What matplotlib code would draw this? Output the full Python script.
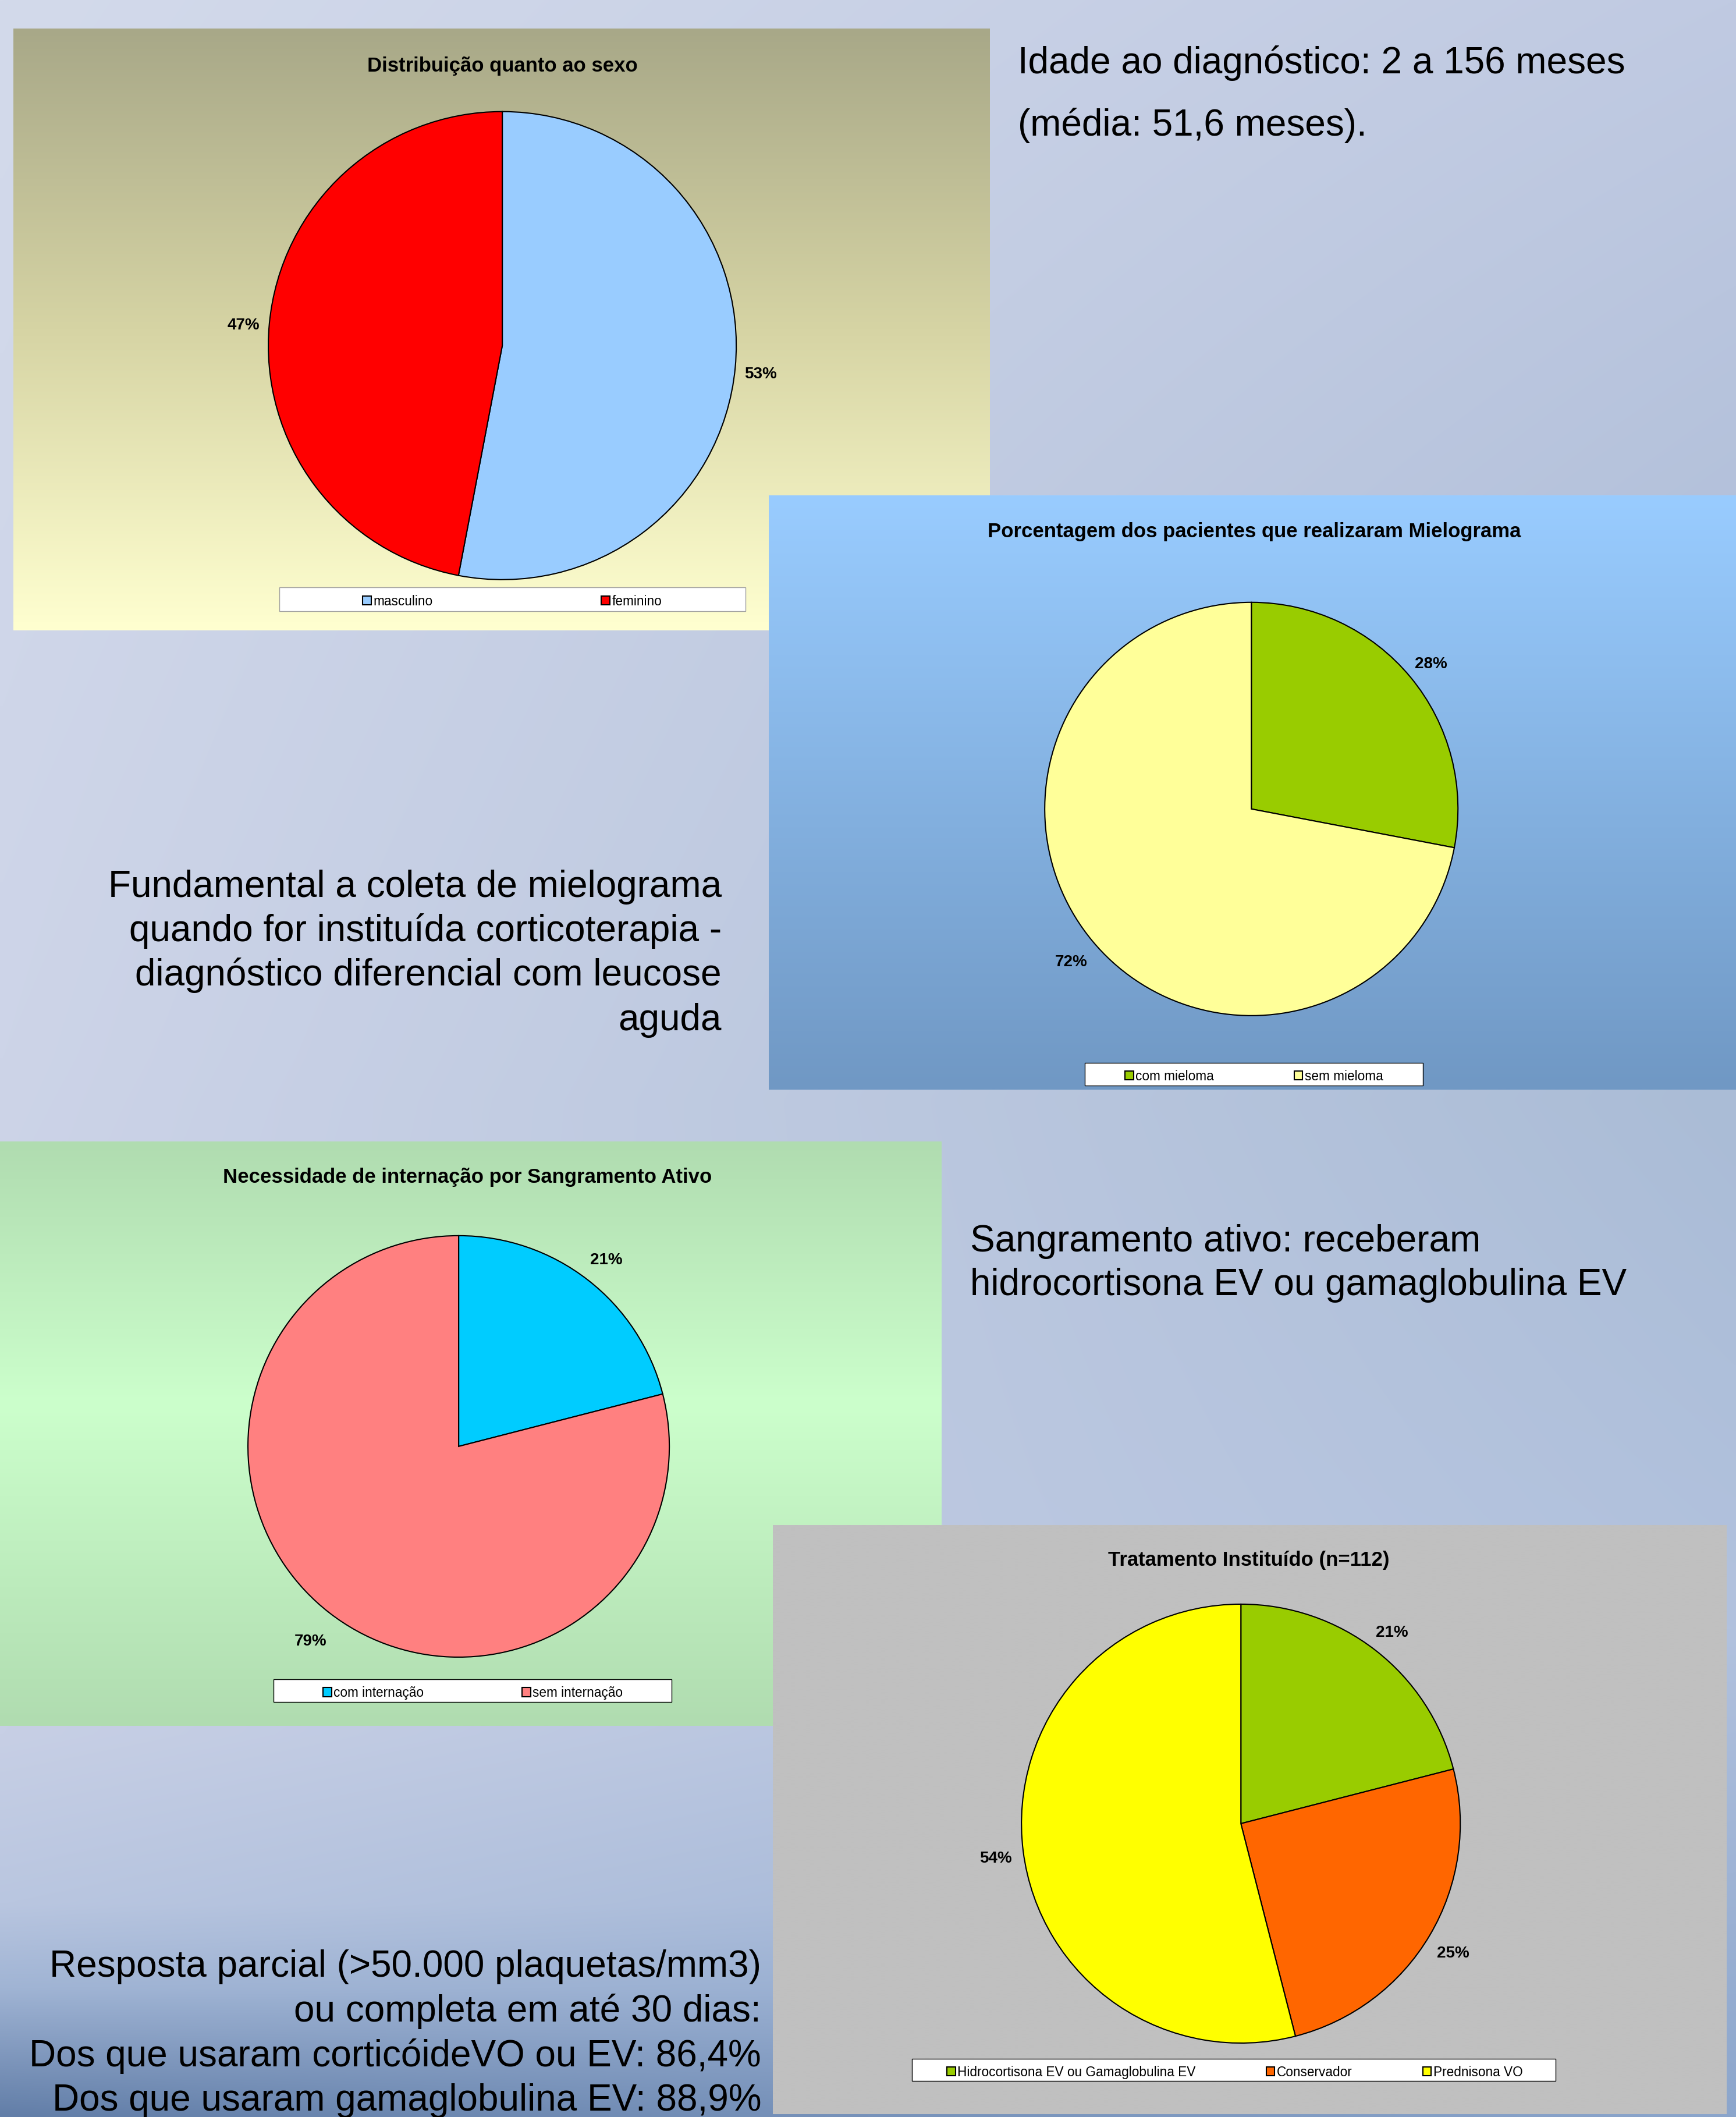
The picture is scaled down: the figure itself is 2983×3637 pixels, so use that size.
import numpy as np
import matplotlib.pyplot as plt
from matplotlib.patches import Rectangle

W, H = 2983, 3637
DPI = 100

# dados dos graficos
sexo_labels = ['masculino', 'feminino']
sexo_vals = [53, 47]
mielo_labels = ['com mieloma', 'sem mieloma']
mielo_vals = [28, 72]
intern_labels = ['com internação', 'sem internação']
intern_vals = [21, 79]
trat_labels = ['Hidrocortisona EV ou Gamaglobulina EV', 'Conservador', 'Prednisona VO']
trat_vals = [21, 25, 54]

plt.rcParams['font.family'] = ['Liberation Sans', 'DejaVu Sans']

fig = plt.figure(figsize=((W + 0.3) / DPI, (H + 0.3) / DPI), dpi=DPI)


def fig_rect(x0, y0, x1, y1):
    # caixa em pixels (origem no topo) -> fracao da figura
    return [x0 / W, 1 - y1 / H, (x1 - x0) / W, (y1 - y0) / H]


def grad(stops, n=256):
    pos = np.array([s[0] for s in stops], float)
    cols = np.array([s[1] for s in stops], float) / 255
    t = np.linspace(0, 1, n)
    return np.stack([np.interp(t, pos, cols[:, k]) for k in range(3)], axis=-1)


# fundo do slide
left = grad([(0, (211, 218, 235)), (0.5, (205, 212, 232)), (0.82, (199, 207, 229)),
             (0.9, (185, 198, 224)), (0.94, (160, 180, 212)), (1, (98, 126, 168))], 600)
right = grad([(0, (192, 202, 226)), (0.27, (178, 192, 218)), (0.52, (170, 188, 214)),
              (0.77, (178, 194, 222)), (1, (140, 166, 204))], 600)
xs = np.linspace(0, 1, 300)[None, :, None]
bg = left[:, None, :] * (1 - xs) + right[:, None, :] * xs
ax_bg = fig.add_axes([0, 0, 1, 1])
ax_bg.imshow(bg, aspect='auto', extent=(0, 1, 0, 1), interpolation='bilinear')
ax_bg.axis('off')


def panel(box, stops):
    x0, y0, x1, y1 = box
    ax = fig.add_axes(fig_rect(*box))
    ax.imshow(grad(stops)[:, None, :], aspect='auto', extent=(x0, x1, y1, y0),
              interpolation='bilinear')
    ax.set_xlim(x0, x1)
    ax.set_ylim(y1, y0)
    ax.axis('off')
    return ax


def pie_chart(pan, title, title_xy, center, r, vals, labels, colors,
              legbox, leg_x, colspace, pdist=1.12, legedge='black'):
    tx, ty = title_xy
    pan.text(tx, ty, title, ha='center', va='baseline', fontsize=25, fontweight='bold')
    lx0, ly0, lx1, ly1 = legbox
    pan.add_patch(Rectangle((lx0, ly0), lx1 - lx0, ly1 - ly0, facecolor='white',
                            edgecolor=legedge, linewidth=1))
    cx, cy = center
    m = 1.02
    ax = fig.add_axes(fig_rect(cx - r * m, cy - r * m, cx + r * m, cy + r * m))
    wedges, _, pct = ax.pie(vals, colors=colors, startangle=90, counterclock=False,
                            autopct='%1.0f%%', pctdistance=pdist,
                            wedgeprops=dict(edgecolor='black', linewidth=1.5),
                            textprops=dict(fontsize=20, fontweight='bold'))
    for t in pct:
        x, y = t.get_position()
        t.set_position((x, y - 7 / r))
    ax.set_xlim(-m, m)
    ax.set_ylim(-m, m)
    ax.legend(wedges, labels, loc='center left',
              bbox_to_anchor=(leg_x / W, 1 - ((ly0 + ly1) / 2 + 4) / H),
              bbox_transform=fig.transFigure, ncol=len(labels), frameon=False,
              fontsize=16.3, handlelength=0.65, handleheight=0.65,
              handletextpad=0.15, columnspacing=colspace,
              borderpad=0, borderaxespad=0)
    return ax


p1 = panel((23, 49, 1700, 1083), [(0, (168, 168, 136)), (0.5, (214, 212, 164)),
                                  (1, (255, 255, 208))])
pie_chart(p1, 'Distribuição quanto ao sexo', (863, 123), (863, 594), 402,
          sexo_vals, sexo_labels, ['#99ccff', '#ff0000'],
          (480, 1009, 1281, 1050), 623, 12.8, pdist=1.11, legedge='#a0a0a0')

p2 = panel((1321, 851, 2983, 1872), [(0, (153, 204, 255)), (1, (112, 152, 196))])
pie_chart(p2, 'Porcentagem dos pacientes que realizaram Mielograma', (2155, 923),
          (2150, 1390), 355, mielo_vals, mielo_labels, ['#99cc00', '#ffff99'],
          (1864, 1826, 2445, 1865), 1933, 6.08, pdist=1.13)

p3 = panel((0, 1961, 1617, 2965), [(0, (176, 220, 176)), (0.45, (204, 255, 204)),
                                   (1, (176, 220, 176))])
pie_chart(p3, 'Necessidade de internação por Sangramento Ativo', (803, 2032),
          (788, 2485), 362, intern_vals, intern_labels, ['#00ccff', '#ff8080'],
          (470, 2885, 1154, 2924), 555, 7.45, pdist=1.145)

p4 = panel((1328, 2620, 2966, 3632), [(0, (192, 192, 192)), (1, (192, 192, 192))])
pie_chart(p4, 'Tratamento Instituído (n=112)', (2146, 2690),
          (2132, 3133), 377, trat_vals, trat_labels, ['#99cc00', '#ff6600', '#ffff00'],
          (1567, 3537, 2673, 3575), 1627, 5.35, pdist=1.125)

# textos do slide
def lines(x, ys, texts, ha):
    for y, t in zip(ys, texts):
        fig.text(x / W, 1 - y / H, t, ha=ha, va='baseline', fontsize=46)


lines(1749, [126, 233], ['Idade ao diagnóstico: 2 a 156 meses', '(média: 51,6 meses).'], 'left')
lines(1240, [1541, 1617, 1693, 1770],
      ['Fundamental a coleta de mielograma', 'quando for instituída corticoterapia -',
       'diagnóstico diferencial com leucose', 'aguda'], 'right')
lines(1667, [2150, 2225],
      ['Sangramento ativo: receberam', 'hidrocortisona EV ou gamaglobulina EV'], 'left')
lines(1308, [3396, 3473, 3550, 3626],
      ['Resposta parcial (>50.000 plaquetas/mm3)', 'ou completa em até 30 dias:',
       'Dos que usaram corticóideVO ou EV: 86,4%', 'Dos que usaram gamaglobulina EV: 88,9%'],
      'right')

fig.savefig('out.png', dpi=DPI)
